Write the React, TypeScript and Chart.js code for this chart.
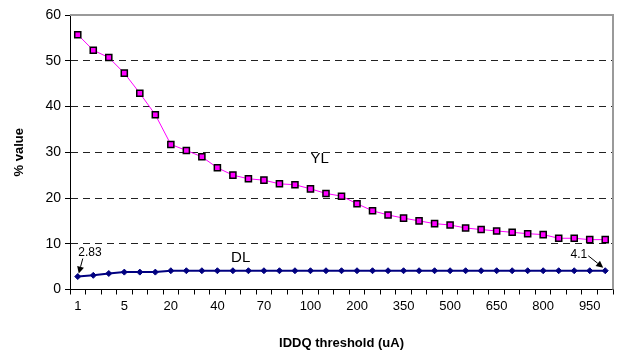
import React, { useEffect, useRef } from "react";
import { Chart, registerables } from "chart.js";

Chart.register(...registerables);

const categories = [
  "1", "2", "3", "5", "10", "15", "20", "25", "30", "40", "50", "60", "70", "80", "90", "100",
  "125", "150", "200", "250", "300", "350", "400", "450", "500", "550", "600", "650", "700",
  "750", "800", "850", "900", "950", "1000",
];

const ylValues = [
  55.7, 52.3, 50.7, 47.3, 42.9, 38.2, 31.7, 30.4, 29.0, 26.6, 25.0, 24.2, 23.9, 23.1, 22.9,
  22.0, 21.0, 20.4, 18.75, 17.2, 16.3, 15.6, 15.0, 14.4, 14.1, 13.45, 13.1, 12.8, 12.5, 12.2,
  12.0, 11.2, 11.2, 10.9, 10.9,
];

const dlValues = [
  2.83, 3.1, 3.5, 3.8, 3.8, 3.8, 4.1, 4.1, 4.1, 4.1, 4.1, 4.1, 4.1, 4.1, 4.1, 4.1, 4.1, 4.1,
  4.1, 4.1, 4.1, 4.1, 4.1, 4.1, 4.1, 4.1, 4.1, 4.1, 4.1, 4.1, 4.1, 4.1, 4.1, 4.1, 4.1,
];

const yTicks = [0, 10, 20, 30, 40, 50, 60];
const FONT = "'Liberation Sans', Arial, sans-serif";

function drawArrow(ctx: CanvasRenderingContext2D, x1: number, y1: number, x2: number, y2: number) {
  ctx.save();
  ctx.strokeStyle = "#000";
  ctx.fillStyle = "#000";
  ctx.lineWidth = 1;
  const ang = Math.atan2(y2 - y1, x2 - x1);
  const hl = 7;
  const bx = x2 - hl * Math.cos(ang);
  const by = y2 - hl * Math.sin(ang);
  ctx.beginPath();
  ctx.moveTo(x1, y1);
  ctx.lineTo(bx, by);
  ctx.stroke();
  ctx.beginPath();
  ctx.moveTo(x2, y2);
  ctx.lineTo(bx + 3.5 * Math.sin(ang), by - 3.5 * Math.cos(ang));
  ctx.lineTo(bx - 3.5 * Math.sin(ang), by + 3.5 * Math.cos(ang));
  ctx.closePath();
  ctx.fill();
  ctx.restore();
}

const annotationPlugin = {
  id: "annotations",
  beforeDatasetsDraw(chart: any) {
    const { ctx, chartArea } = chart;
    ctx.save();
    ctx.strokeStyle = "#9a9a9a";
    ctx.lineWidth = 2;
    ctx.beginPath();
    ctx.moveTo(chartArea.left, chartArea.top);
    ctx.lineTo(chartArea.right, chartArea.top);
    ctx.lineTo(chartArea.right, chartArea.bottom);
    ctx.stroke();
    ctx.restore();
  },
  afterDatasetsDraw(chart: any) {
    const { ctx } = chart;
    const xs = chart.scales.x;
    const ys = chart.scales.y;
    ctx.save();
    ctx.fillStyle = "#000";
    ctx.textBaseline = "middle";
    ctx.textAlign = "center";
    ctx.font = `15px ${FONT}`;
    ctx.fillText("YL", xs.getPixelForValue(15.6), ys.getPixelForValue(28.6));
    ctx.fillText("DL", xs.getPixelForValue(10.5), ys.getPixelForValue(7.0));
    ctx.font = `12px ${FONT}`;
    ctx.textAlign = "left";
    const x0 = xs.getPixelForValue(0);
    const y0 = ys.getPixelForValue(dlValues[0]);
    ctx.fillText(String(dlValues[0]), x0 + 0.5, y0 - 24);
    drawArrow(ctx, x0 + 5, y0 - 18, x0 + 1, y0 - 3);
    const last = dlValues.length - 1;
    const xl = xs.getPixelForValue(last);
    const yl = ys.getPixelForValue(dlValues[last]);
    ctx.textAlign = "right";
    ctx.fillText(String(dlValues[last]), xl - 18, yl - 16);
    drawArrow(ctx, xl - 17, yl - 15, xl - 2, yl - 3);
    ctx.restore();
  },
};

export default function App() {
  const ref = useRef<HTMLCanvasElement | null>(null);
  useEffect(() => {
    if (!ref.current) return;
    const chart = new Chart(ref.current, {
      type: "line",
      data: {
        labels: categories,
        datasets: [
          {
            label: "YL",
            data: ylValues,
            borderColor: "#ff00ff",
            borderWidth: 1,
            backgroundColor: "#ff00ff",
            pointStyle: "rect",
            pointRadius: 4.3,
            pointBorderColor: "#000",
            pointBackgroundColor: "#ff00ff",
            pointBorderWidth: 1.5,
            tension: 0,
          },
          {
            label: "DL",
            data: dlValues,
            borderColor: "#000080",
            borderWidth: 2,
            backgroundColor: "#000080",
            pointStyle: "rectRot",
            pointRadius: 3,
            pointBorderColor: "#000080",
            pointBackgroundColor: "#000080",
            pointBorderWidth: 1,
            tension: 0,
          },
        ],
      },
      options: {
        animation: false,
        responsive: false,
        devicePixelRatio: 1,
        layout: { padding: { top: 15, right: 7, left: 12, bottom: 12 } },
        plugins: { legend: { display: false }, tooltip: { enabled: false } },
        scales: {
          x: {
            type: "category",
            offset: true,
            grid: {
              offset: true,
              drawOnChartArea: false,
              drawTicks: true,
              tickLength: 5,
              tickColor: "#000",
              tickWidth: 1,
            },
            border: { color: "#000", width: 1 },
            ticks: {
              autoSkip: false,
              maxRotation: 0,
              color: "#000",
              font: { family: FONT, size: 13 },
              padding: 4,
              callback: (_v: any, i: number) => (i % 3 === 0 ? categories[i] : ""),
            },
            title: {
              display: true,
              text: "IDDQ threshold (uA)",
              color: "#000",
              font: { family: FONT, size: 13, weight: "bold" },
              padding: { top: 0, bottom: 0 },
            },
            afterFit: (s: any) => {
              s.height = 363 - 12 - 289.5;
            },
          },
          y: {
            min: 0,
            max: 60,
            afterBuildTicks: (s: any) => {
              s.ticks = yTicks.map((v) => ({ value: v }));
            },
            grid: {
              color: (c: any) =>
                c.tick && (c.tick.value === 0 || c.tick.value === 60) ? "rgba(0,0,0,0)" : "#222",
              lineWidth: 1,
              tickColor: "#000",
              tickLength: 5,
            },
            border: { color: "#000", width: 1, dash: [7, 5] },
            ticks: {
              color: "#000",
              font: { family: FONT, size: 14 },
              padding: 4,
            },
            title: {
              display: true,
              text: "% value",
              color: "#000",
              font: { family: FONT, size: 13, weight: "bold" },
              padding: { top: 0, bottom: 6 },
            },
            afterFit: (s: any) => {
              s.width = 58;
            },
          },
        },
      },
      plugins: [annotationPlugin],
    } as any);
    return () => chart.destroy();
  }, []);
  return (
    <div style={{ position: "fixed", left: 0, top: 0, width: 620, height: 363, background: "#fff" }}>
      <canvas ref={ref} width={620} height={363} style={{ width: 620, height: 363 }} />
    </div>
  );
}
